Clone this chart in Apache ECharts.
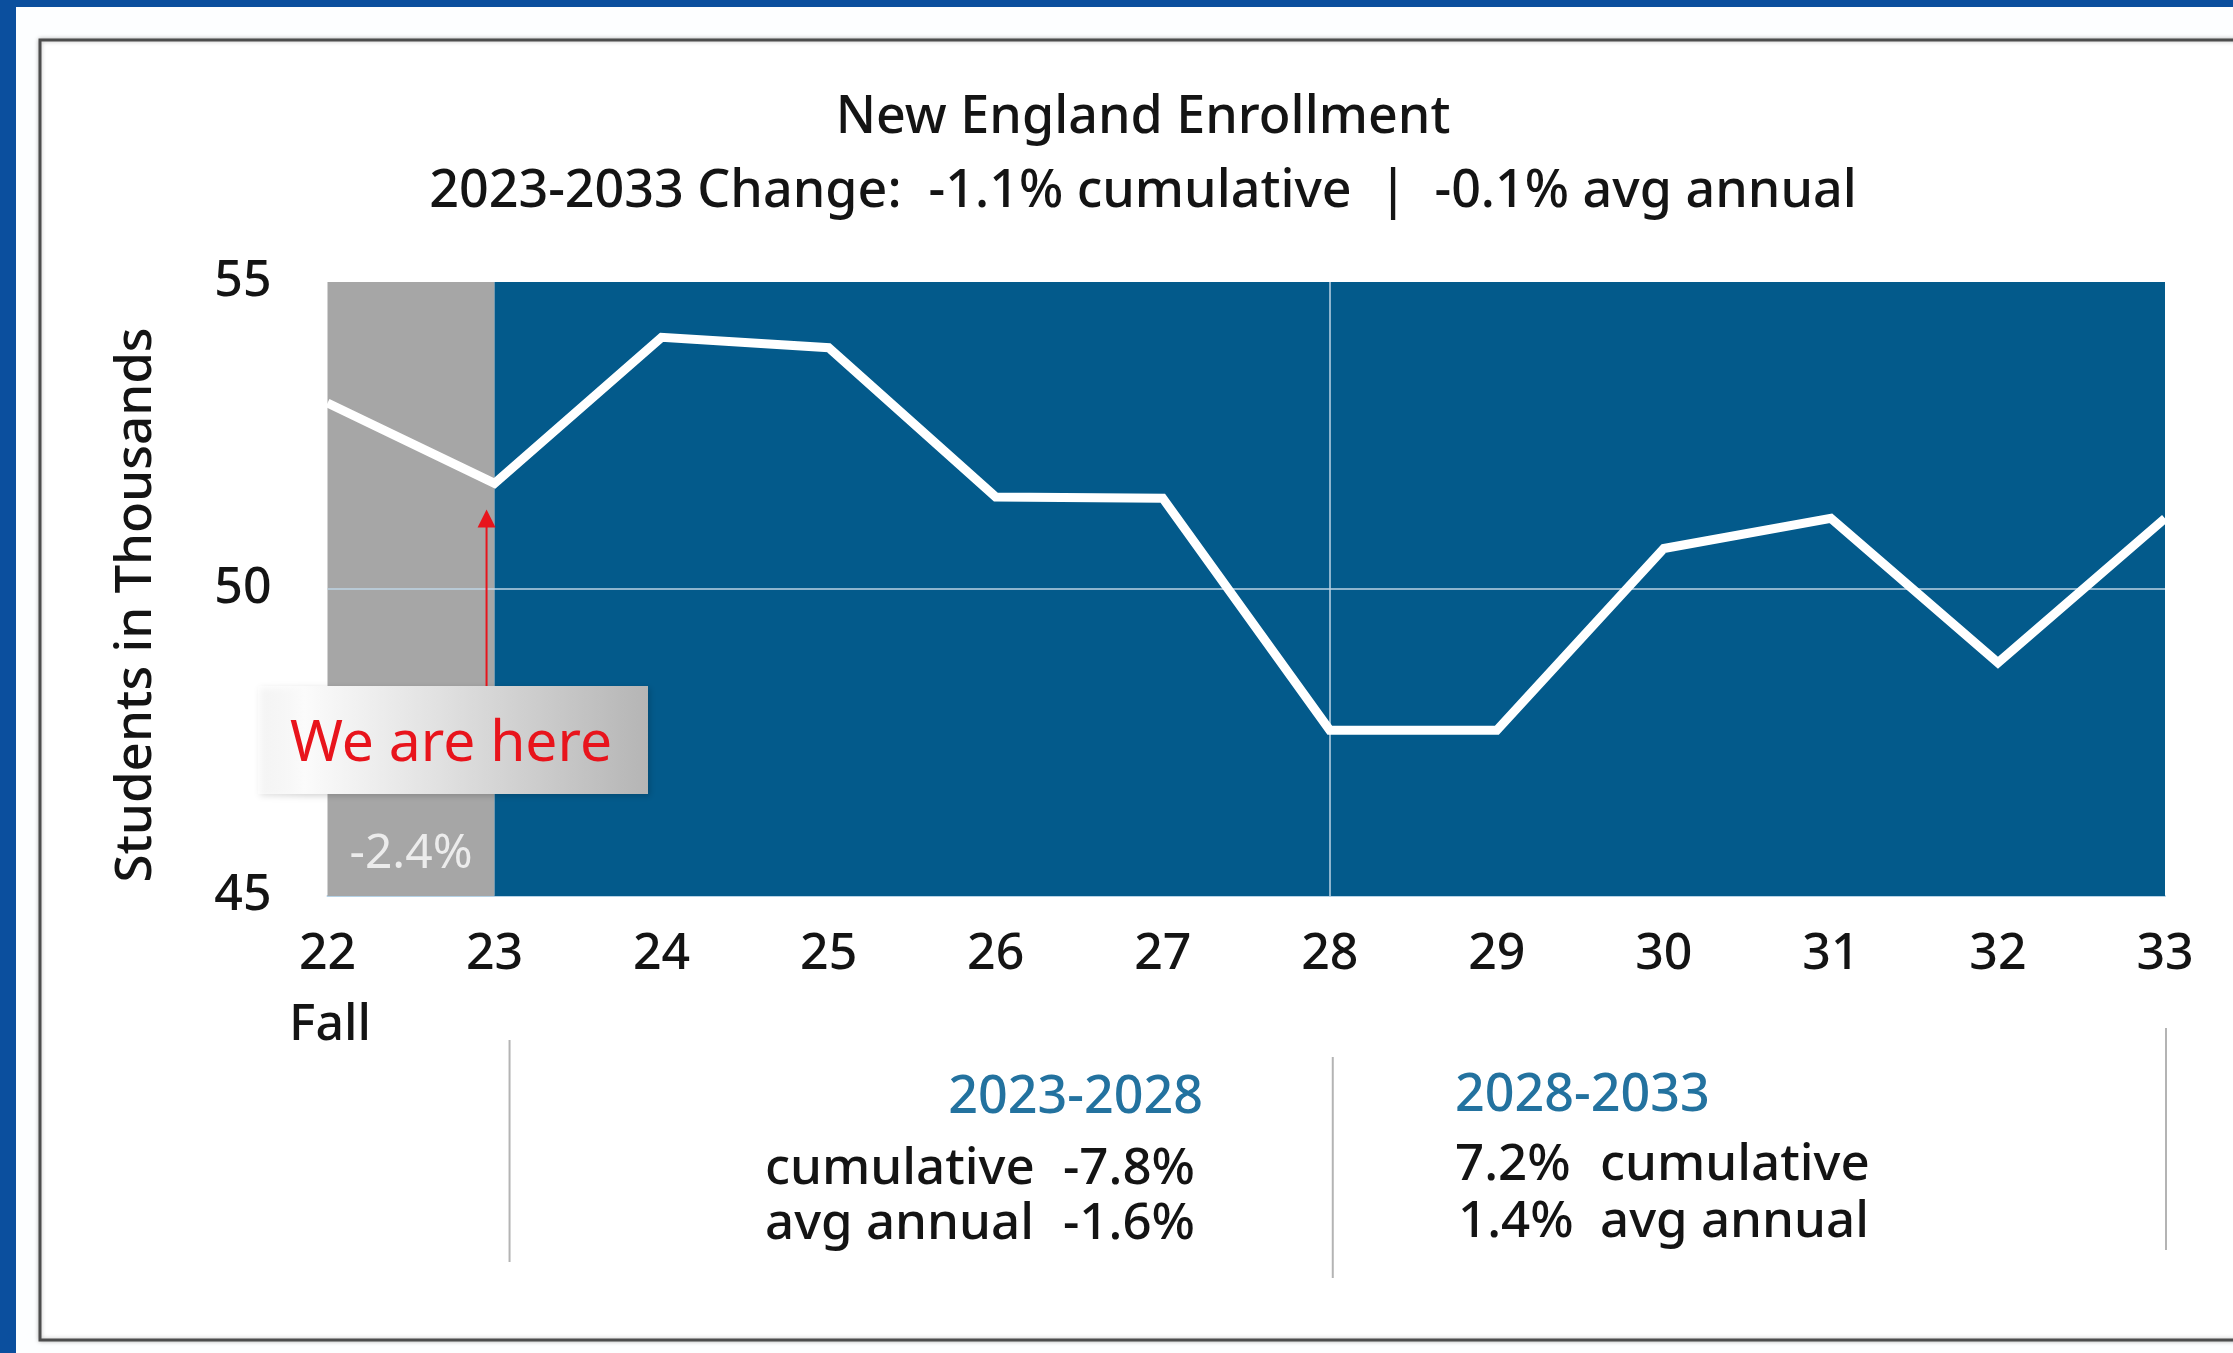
<!DOCTYPE html>
<html>
<head>
<meta charset="utf-8">
<title>New England Enrollment</title>
<script src="https://cdn.jsdelivr.net/npm/echarts@6/dist/echarts.min.js"></script>
<style>
  html, body { margin: 0; padding: 0; background: #0b4f9e; }
  #chart { width: 2233px; height: 1353px; }
</style>
</head>
<body>
<div id="chart"></div>
<script>
// Fall enrollment, thousands of students (22 = Fall 2022 ... 33 = Fall 2033)
const years = ['22', '23', '24', '25', '26', '27', '28', '29', '30', '31', '32', '33'];
const enrollment = [53.03, 51.72, 54.10, 53.93, 51.50, 51.48, 47.70, 47.70, 50.66, 51.15, 48.80, 51.15];
const yTicks = [45, 50, 55];

// shaded periods: actual (22-23) and projected (23-33)
const actualSpan = ['22', '23'];
const projectedSpan = ['23', '33'];
const actualChange = '-2.4%';
const splitYear = '28';
const currentYear = '23';

// period summaries shown under the axis
const firstPeriod = { label: '2023-2028', cumulative: '-7.8%', annual: '-1.6%' };
const secondPeriod = { label: '2028-2033', cumulative: '7.2%', annual: '1.4%' };

const titleText = 'New England Enrollment';
const subtitleText = '2023-2033 Change:  -1.1% cumulative  |  -0.1% avg annual';

const FONT = 'Noto Sans';
const WEIGHT = 500;
const INK = '#141414';
const GRAY = '#a6a6a6';
const BLUE = '#035a8b';
const GRID_LINE = '#bed4e4';

const chart = echarts.init(document.getElementById('chart'), null, { renderer: 'canvas' });

const txt = (x, y, text, opts) => ({
  type: 'text', x, y, silent: true,
  style: Object.assign({
    text, fontFamily: FONT, fontWeight: WEIGHT, fontSize: 51, fill: INK, align: 'left', verticalAlign: 'middle'
  }, opts || {})
});

const frame = [
  // page frame: white sheet over the blue border, with the boxed chart area
  { type: 'rect', z: -10, silent: true, shape: { x: 16, y: 7, width: 2233, height: 1353 }, style: { fill: '#fdfeff' } },
  {
    type: 'rect', z: -9, silent: true,
    shape: { x: 40, y: 40, width: 2240, height: 1300 },
    style: { fill: '#ffffff', stroke: '#4d4d4d', lineWidth: 3, shadowBlur: 4, shadowColor: 'rgba(0,0,0,0.25)' }
  }
];

chart.setOption({
  backgroundColor: '#0b4f9e',
  animation: false,
  title: {
    text: titleText,
    subtext: subtitleText,
    left: 1138,
    top: 84,
    textAlign: 'center',
    itemGap: 16,
    textStyle: { fontFamily: FONT, fontSize: 52, fontWeight: WEIGHT, color: INK, lineHeight: 58 },
    subtextStyle: { fontFamily: FONT, fontSize: 52, fontWeight: WEIGHT, color: INK, lineHeight: 58 }
  },
  grid: { left: 327.5, right: 68, top: 282, bottom: 457 },
  xAxis: {
    type: 'category',
    data: years,
    boundaryGap: false,
    axisLine: { show: true, lineStyle: { color: '#b5d2e6', width: 2 } },
    axisTick: { show: false },
    axisLabel: { fontFamily: FONT, fontWeight: WEIGHT, fontSize: 50, color: INK, margin: 34, interval: 0 },
    splitLine: { show: false }
  },
  yAxis: {
    type: 'value',
    min: yTicks[0],
    max: yTicks[yTicks.length - 1],
    interval: yTicks[1] - yTicks[0],
    name: 'Students in Thousands',
    nameLocation: 'middle',
    nameRotate: 90,
    nameGap: 166,
    nameTextStyle: { fontFamily: FONT, fontWeight: WEIGHT, fontSize: 51, color: INK, padding: [0, 32, 0, 0] },
    axisLine: { show: false },
    axisTick: { show: false },
    splitLine: { show: false },
    axisLabel: { fontFamily: FONT, fontWeight: WEIGHT, fontSize: 50, color: INK, margin: 56 }
  },
  series: [
    {
      // shaded backgrounds for actual vs projected years
      type: 'line',
      data: [],
      z: 1,
      silent: true,
      markArea: {
        silent: true,
        data: [
          [
            {
              xAxis: actualSpan[0],
              itemStyle: { color: GRAY },
              label: {
                show: true, position: 'insideBottom', distance: 18,
                formatter: actualChange, fontFamily: FONT, fontSize: 48, color: '#ececec'
              }
            },
            { xAxis: actualSpan[1] }
          ],
          [
            { xAxis: projectedSpan[0], itemStyle: { color: BLUE }, label: { show: false } },
            { xAxis: projectedSpan[1] }
          ]
        ]
      }
    },
    {
      name: 'Enrollment',
      type: 'line',
      data: enrollment,
      z: 5,
      symbol: 'none',
      lineStyle: { color: '#ffffff', width: 9, join: 'miter' },
      markLine: {
        silent: true,
        symbol: 'none',
        z: 3,
        label: { show: false },
        lineStyle: { color: GRID_LINE, width: 1.5, type: 'solid' },
        data: [{ yAxis: 50 }, { xAxis: splitYear }]
      }
    }
  ],
  graphic: frame
});

// annotations placed from the axes' own scales
const px = (cat, val) => chart.convertToPixel({ xAxisIndex: 0, yAxisIndex: 0 }, [cat, val]);
const p23 = px(currentYear, enrollment[years.indexOf(currentYear)]);
const pSplit = px(splitYear, yTicks[0]);
const pFirst = px(currentYear, yTicks[0]);
const pLast = px(years[years.length - 1], yTicks[0]);

const arrowX = p23[0] - 8;
const tipY = p23[1] + 26;
const boxTop = 686, boxBottom = 794;

chart.setOption({
  graphic: frame.concat([
    // "We are here" marker
    {
      type: 'line', z: 20, silent: true,
      shape: { x1: arrowX, y1: boxTop, x2: arrowX, y2: tipY + 16 },
      style: { stroke: '#e8141c', lineWidth: 2 }
    },
    {
      type: 'polygon', z: 20, silent: true,
      shape: { points: [[arrowX, tipY], [arrowX - 9, tipY + 18], [arrowX + 9, tipY + 18]] },
      style: { fill: '#e8141c' }
    },
    {
      type: 'rect', z: 20, silent: true,
      shape: { x: 258, y: boxTop, width: 390, height: boxBottom - boxTop },
      style: {
        fill: new echarts.graphic.LinearGradient(0, 0, 1, 0, [
          { offset: 0, color: 'rgba(255,255,255,0.6)' },
          { offset: 0.12, color: '#fbfbfb' },
          { offset: 0.45, color: '#e2e2e2' },
          { offset: 1, color: '#b5b5b5' }
        ]),
        shadowBlur: 6, shadowColor: 'rgba(0,0,0,0.18)', shadowOffsetX: 2, shadowOffsetY: 2
      }
    },
    Object.assign(txt(451, 745, 'We are here', { fontSize: 57, fontWeight: 'normal', fill: '#e8141c', align: 'center' }), { z: 21 }),

    // x-axis caption
    txt(330, 1026, 'Fall', { fontSize: 50, align: 'center' }),

    // period separators below the axis
    { type: 'line', silent: true, shape: { x1: pFirst[0] + 15, y1: 1040, x2: pFirst[0] + 15, y2: 1262 }, style: { stroke: '#b4b4b4', lineWidth: 2 } },
    { type: 'line', silent: true, shape: { x1: pSplit[0] + 3, y1: 1057, x2: pSplit[0] + 3, y2: 1278 }, style: { stroke: '#b4b4b4', lineWidth: 2 } },
    { type: 'line', silent: true, shape: { x1: pLast[0] + 1, y1: 1028, x2: pLast[0] + 1, y2: 1250 }, style: { stroke: '#b4b4b4', lineWidth: 2 } },

    // 2023-2028 summary (right aligned)
    txt(1203, 1098, firstPeriod.label, { align: 'right', fill: '#23729f', fontSize: 52 }),
    txt(765, 1169, 'cumulative'),
    txt(1195, 1169, firstPeriod.cumulative, { align: 'right' }),
    txt(765, 1224, 'avg annual'),
    txt(1195, 1224, firstPeriod.annual, { align: 'right' }),

    // 2028-2033 summary (left aligned)
    txt(1455, 1096, secondPeriod.label, { fill: '#23729f', fontSize: 52 }),
    txt(1455, 1165, secondPeriod.cumulative),
    txt(1600, 1165, 'cumulative'),
    txt(1458, 1222, secondPeriod.annual),
    txt(1600, 1222, 'avg annual')
  ])
});
</script>
</body>
</html>
